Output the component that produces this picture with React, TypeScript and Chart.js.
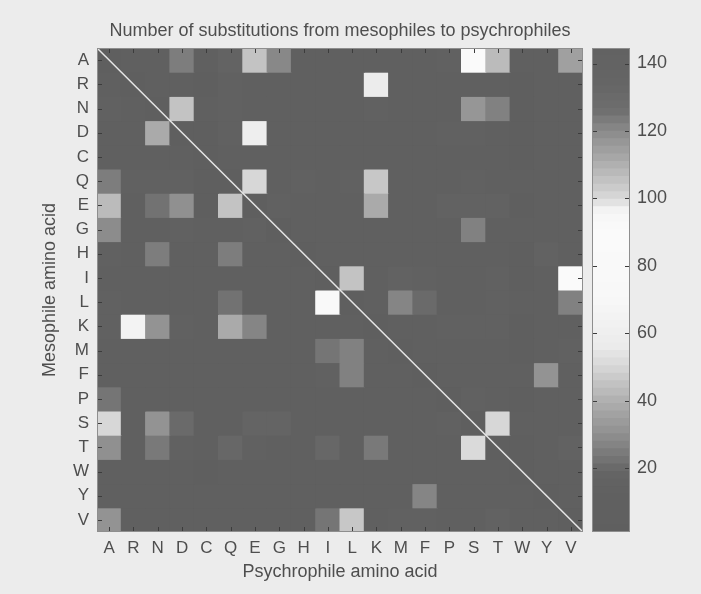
import React, { useEffect, useRef } from "react";
import { Chart, registerables } from "chart.js";
Chart.register(...registerables);

// Amino acid order (rows = mesophile, columns = psychrophile)
const aminoAcids = ["A", "R", "N", "D", "C", "Q", "E", "G", "H", "I", "L", "K", "M", "F", "P", "S", "T", "W", "Y", "V"];

// Substitution counts, one array per mesophile amino acid (row), columns in aminoAcids order
const rowA = [0, 8, 10, 25, 6, 17, 45, 28, 9, 8, 11, 10, 7, 6, 12, 85, 43, 4, 6, 35];
const rowR = [9, 0, 8, 7, 3, 15, 10, 6, 8, 6, 8, 57, 5, 4, 6, 9, 8, 3, 5, 7];
const rowN = [15, 8, 0, 45, 4, 14, 11, 9, 10, 6, 7, 12, 5, 5, 7, 32, 26, 3, 6, 8];
const rowD = [10, 6, 38, 0, 3, 12, 60, 10, 8, 5, 6, 9, 4, 4, 14, 14, 11, 3, 5, 6];
const rowC = [7, 4, 5, 4, 0, 4, 5, 6, 4, 6, 7, 5, 4, 5, 4, 9, 7, 3, 5, 7];
const rowQ = [25, 12, 15, 15, 3, 0, 50, 8, 14, 7, 15, 46, 6, 5, 9, 12, 11, 4, 6, 8];
const rowE = [43, 10, 22, 30, 3, 45, 0, 12, 9, 7, 10, 38, 6, 5, 16, 16, 16, 3, 6, 11];
const rowG = [29, 9, 11, 12, 5, 9, 13, 0, 7, 5, 7, 10, 5, 5, 8, 26, 10, 4, 5, 9];
const rowH = [12, 8, 25, 10, 4, 25, 10, 7, 0, 6, 8, 9, 5, 8, 6, 11, 10, 3, 16, 8];
const rowI = [11, 5, 7, 6, 4, 7, 8, 6, 5, 0, 45, 9, 16, 12, 6, 10, 12, 3, 8, 85];
const rowL = [12, 7, 7, 6, 5, 22, 9, 6, 9, 80, 0, 9, 27, 20, 10, 9, 12, 4, 10, 26];
const rowK = [13, 65, 31, 12, 4, 38, 27, 10, 9, 7, 9, 0, 7, 5, 15, 15, 12, 3, 6, 8];
const rowM = [10, 5, 6, 5, 4, 7, 8, 5, 5, 23, 26, 8, 0, 8, 4, 8, 9, 3, 6, 12];
const rowF = [8, 4, 6, 5, 5, 6, 6, 6, 8, 12, 26, 5, 9, 0, 5, 8, 7, 6, 31, 10];
const rowP = [23, 7, 8, 8, 4, 10, 11, 9, 7, 6, 11, 8, 5, 5, 0, 13, 10, 3, 5, 8];
const rowS = [50, 9, 31, 20, 9, 11, 18, 18, 8, 6, 8, 11, 6, 6, 12, 0, 50, 4, 6, 10];
const rowT = [30, 10, 24, 12, 8, 19, 13, 11, 9, 19, 10, 24, 7, 5, 10, 51, 0, 3, 6, 16];
const rowW = [5, 4, 5, 4, 3, 5, 5, 5, 4, 4, 6, 5, 4, 8, 4, 6, 6, 0, 9, 6];
const rowY = [8, 5, 7, 6, 5, 7, 7, 6, 9, 7, 11, 6, 5, 27, 5, 8, 8, 8, 0, 9];
const rowV = [31, 7, 8, 8, 7, 8, 10, 8, 7, 23, 46, 9, 12, 12, 9, 10, 16, 4, 8, 0];

const matrix = [rowA, rowR, rowN, rowD, rowC, rowQ, rowE, rowG, rowH, rowI, rowL, rowK, rowM, rowF, rowP, rowS, rowT, rowW, rowY, rowV];

// Colour scale limits and colorbar ticks
const colorMin = 1;
const colorMax = 144.6;
const colorbarTicks = [20, 40, 60, 80, 100, 120, 140];

// Colormap anchors (value -> gray level)
const cmapValues = [0, 15, 18, 20, 30, 40, 45, 50, 53, 56, 62, 70, 90, 96, 100, 110, 120, 126, 135, 145];
const cmapGrays = [95, 97, 100, 106, 144, 176, 195, 215, 225, 235, 240, 248, 250, 246, 216, 175, 138, 110, 100, 98];
const colorbarSteps = 64;

function grayFor(v: number): string {
  let g = cmapGrays[cmapGrays.length - 1];
  if (v <= cmapValues[0]) g = cmapGrays[0];
  for (let i = 0; i < cmapValues.length - 1; i++) {
    if (v >= cmapValues[i] && v <= cmapValues[i + 1]) {
      const t = (v - cmapValues[i]) / (cmapValues[i + 1] - cmapValues[i]);
      g = cmapGrays[i] + t * (cmapGrays[i + 1] - cmapGrays[i]);
      break;
    }
  }
  const c = Math.round(g);
  return `rgb(${c},${c},${c})`;
}

const FONT = "'Liberation Sans', Arial, Helvetica, sans-serif";
const TEXT = "#4e4e4e";
const TICK_SIZE = 17;
const LABEL_SIZE = 18;

const frameAndTicks = {
  id: "frameAndTicks",
  afterDatasetsDraw(chart: any, _args: any, opts: any) {
    const { ctx, chartArea: a, scales } = chart;
    ctx.save();
    ctx.lineWidth = 1;
    ctx.strokeStyle = "#3c3c3c";
    const len = 5;
    const seg = (x1: number, y1: number, x2: number, y2: number) => {
      ctx.beginPath();
      ctx.moveTo(x1, y1);
      ctx.lineTo(x2, y2);
      ctx.stroke();
    };
    if (opts && opts.xTicks && scales.x) {
      scales.x.ticks.forEach((_t: any, i: number) => {
        const px = Math.round(scales.x.getPixelForTick(i)) + 0.5;
        seg(px, a.bottom, px, a.bottom - len);
        seg(px, a.top, px, a.top + len);
      });
    }
    const ys = scales.y;
    ys.ticks.forEach((t: any) => {
      const py = Math.round(ys.getPixelForValue(t.value)) + 0.5;
      seg(a.left, py, a.left + len, py);
      seg(a.right, py, a.right - len, py);
    });
    ctx.strokeStyle = "#8e8e8e";
    ctx.strokeRect(a.left + 0.5, a.top + 0.5, a.width - 1, a.height - 1);
    ctx.restore();
  },
};

function Heatmap() {
  const ref = useRef<HTMLCanvasElement>(null);
  useEffect(() => {
    const datasets: any[] = matrix.map((row, r) => ({
      type: "bar",
      label: aminoAcids[r],
      data: row.map(() => [r, r + 1]),
      backgroundColor: row.map((v) => grayFor(v)),
      borderWidth: 0,
      inflateAmount: 0.5,
      grouped: false,
      barPercentage: 1,
      categoryPercentage: 1,
      order: 1,
      xAxisID: "x",
      yAxisID: "y",
    }));
    datasets.push({
      type: "line",
      label: "diagonal",
      data: [
        { x: 0, y: 0 },
        { x: aminoAcids.length, y: aminoAcids.length },
      ],
      borderColor: "#e6e6e6",
      borderWidth: 1.5,
      pointRadius: 0,
      order: -1,
      xAxisID: "x2",
      yAxisID: "y",
    });
    const chart = new Chart(ref.current!, {
      type: "bar",
      data: { labels: aminoAcids, datasets },
      options: {
        animation: false,
        responsive: false,
        events: [],
        layout: { padding: { top: 48, right: 7, left: 0, bottom: 0 } },
        plugins: {
          legend: { display: false },
          tooltip: { enabled: false },
          frameAndTicks: { xTicks: true },
        } as any,
        scales: {
          x: {
            type: "category",
            offset: true,
            grid: { display: false, drawTicks: false },
            border: { display: false },
            ticks: { color: TEXT, font: { family: FONT, size: TICK_SIZE }, padding: 6, maxRotation: 0, autoSkip: false },
            title: { display: true, text: "Psychrophile amino acid", color: TEXT, font: { family: FONT, size: LABEL_SIZE }, padding: { top: 0, bottom: 11 } },
            afterFit: (s: any) => {
              s.height = 62;
            },
          },
          x2: { type: "linear", min: 0, max: aminoAcids.length, offset: false, display: false },
          y: {
            type: "linear",
            min: 0,
            max: aminoAcids.length,
            offset: false,
            reverse: true,
            grid: { display: false, drawTicks: false },
            border: { display: false },
            afterBuildTicks: (s: any) => {
              s.ticks = aminoAcids.map((_a, i) => ({ value: i + 0.5 }));
            },
            ticks: {
              color: TEXT,
              font: { family: FONT, size: TICK_SIZE },
              padding: 8,
              autoSkip: false,
              callback: (v: any) => aminoAcids[Math.floor(Number(v))],
            },
            title: { display: true, text: "Mesophile amino acid", color: TEXT, font: { family: FONT, size: LABEL_SIZE }, padding: { top: 39, bottom: 0 } },
            afterFit: (s: any) => {
              s.width = 97;
            },
          },
        },
      } as any,
      plugins: [frameAndTicks],
    });
    return () => chart.destroy();
  }, []);
  return <canvas ref={ref} width={590} height={594} style={{ position: "absolute", left: 0, top: 0 }} />;
}

function Colorbar() {
  const ref = useRef<HTMLCanvasElement>(null);
  useEffect(() => {
    const step = (colorMax - colorMin) / colorbarSteps;
    const datasets: any[] = [];
    for (let k = 0; k < colorbarSteps; k++) {
      const lo = colorMin + k * step;
      const hi = lo + step;
      datasets.push({
        data: [[lo, hi]],
        backgroundColor: grayFor((lo + hi) / 2),
        borderWidth: 0,
        inflateAmount: 0.5,
        grouped: false,
        barPercentage: 1,
        categoryPercentage: 1,
      });
    }
    const chart = new Chart(ref.current!, {
      type: "bar",
      data: { labels: ["cb"], datasets },
      options: {
        animation: false,
        responsive: false,
        events: [],
        layout: { padding: { top: 48, left: 7, bottom: 62, right: 0 } },
        plugins: { legend: { display: false }, tooltip: { enabled: false }, frameAndTicks: { xTicks: false } } as any,
        scales: {
          x: { display: false, offset: true },
          y: {
            type: "linear",
            position: "right",
            min: colorMin,
            max: colorMax,
            grid: { display: false, drawTicks: false },
            border: { display: false },
            afterBuildTicks: (s: any) => {
              s.ticks = colorbarTicks.map((v) => ({ value: v }));
            },
            ticks: { color: TEXT, font: { family: FONT, size: 18 }, padding: 7, autoSkip: false },
            afterFit: (s: any) => {
              s.width = 71;
            },
          },
        },
      } as any,
      plugins: [frameAndTicks],
    });
    return () => chart.destroy();
  }, []);
  return <canvas ref={ref} width={116} height={594} style={{ position: "absolute", left: 585, top: 0 }} />;
}

export default function App() {
  return (
    <div style={{ position: "fixed", left: 0, top: 0, width: 701, height: 594, background: "#ececec", overflow: "hidden" }}>
      <Heatmap />
      <Colorbar />
      <div
        style={{
          position: "absolute",
          left: 97,
          top: 19,
          width: 486,
          textAlign: "center",
          fontFamily: FONT,
          fontSize: LABEL_SIZE,
          lineHeight: "22px",
          color: TEXT,
          whiteSpace: "nowrap",
        }}
      >
        Number of substitutions from mesophiles to psychrophiles
      </div>
    </div>
  );
}
